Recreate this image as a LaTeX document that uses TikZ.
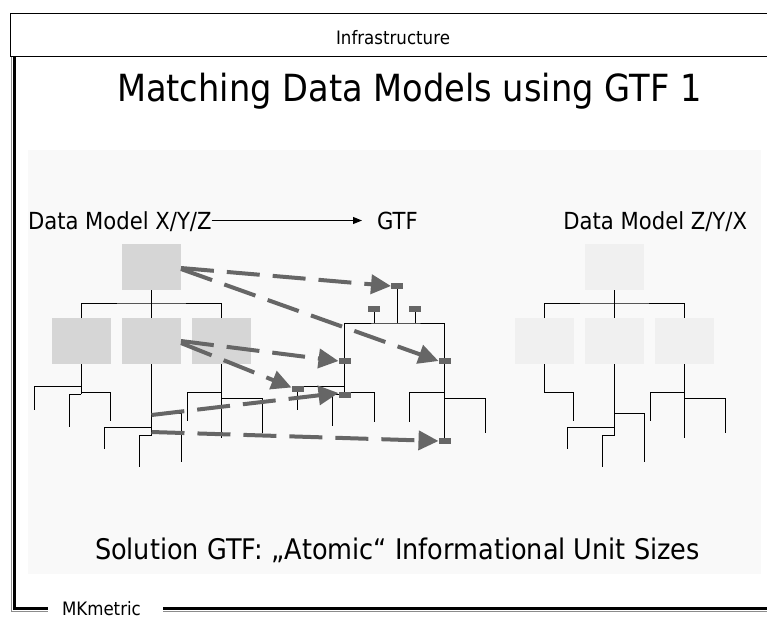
\documentclass[tikz,border=0pt]{standalone}
\usepackage{fontspec}
\setmainfont{DejaVu Sans}[FakeStretch=0.9]
\usetikzlibrary{arrows.meta}

\definecolor{panelgray}{RGB}{249,249,249}
\definecolor{boxdark}{RGB}{214,214,214}
\definecolor{boxlight}{RGB}{240,240,240}
\definecolor{portgray}{RGB}{102,102,102}
\definecolor{rulegray}{RGB}{140,140,140}

\tikzset{
  lbl/.style={inner sep=0pt, outer sep=0pt},
  boxA/.style={rectangle, fill=boxdark, minimum width=59pt, minimum height=46pt, inner sep=0pt, outer sep=0pt},
  boxB/.style={boxA, fill=boxlight},
  port/.style={rectangle, fill=portgray, minimum width=12pt, minimum height=6pt, inner sep=0pt, outer sep=0pt},
  wire/.style={draw=black, line width=1pt},
  flow/.style={draw=portgray, line width=4pt, dash pattern=on 33pt off 13pt,
    -{Triangle[length=20pt,width=19pt]}},
  pointer/.style={draw=black, line width=1pt, -{Triangle[length=9pt,width=7pt]}}
}

\begin{document}
\begin{tikzpicture}[x=1pt,y=-1pt]
\useasboundingbox (0,0) rectangle (767,619);

% header band
\draw[line width=1pt] (10.5,13) rectangle (775,56.5);
\node[lbl, anchor=base] (head) at (393,44.5) {\fontsize{18.5}{20}\selectfont Infrastructure};

% page frame: double rule on the left and along the bottom
\draw[rulegray, line width=1pt] (11,57) -- (11,611.5) -- (48,611.5);
\draw[black, line width=3pt] (14.5,57) -- (14.5,608.5) -- (48,608.5);
\draw[rulegray, line width=1pt] (163,611.5) -- (775,611.5);
\draw[black, line width=3pt] (163,608.5) -- (775,608.5);
\node[lbl, anchor=base west] (brand) at (62,615.5) {\fontsize{18.5}{20}\selectfont MKmetric};

% title
\node[lbl, anchor=base west] (title) at (117,101.5) {\fontsize{37.4}{40}\selectfont Matching Data Models using GTF 1};

% content panel
\fill[panelgray] (28,150) rectangle (761,574);

% labels
\node[lbl, anchor=base west] (dmA) at (28,229) {\fontsize{23.5}{26}\selectfont Data Model X/Y/Z};
\node[lbl, anchor=base west] (gtf) at (377,229) {\fontsize{23.5}{26}\selectfont GTF};
\node[lbl, anchor=base east] (dmB) at (747,229) {\fontsize{23.5}{26}\selectfont Data Model Z/Y/X};
\draw[pointer] ([yshift=8.5pt]dmA.base east) -- ([xshift=-15pt,yshift=8.5pt]gtf.base west);

\node[lbl, anchor=base west] (sol) at (95,559) {\fontsize{28.4}{31}\selectfont Solution GTF: „Atomic“ Informational Unit Sizes};

% ---- source model X/Y/Z ----
\node[boxA] (T1) at (151.5,267) {};
\node[boxA] (L1a) at (81.3,341) {};
\node[boxA] (L1b) at (151.5,341) {};
\node[boxA] (L1c) at (221.5,341) {};
\draw[wire] (T1.south) -- ++(0,13) coordinate (b1);
\draw[wire] (L1a.north) |- (b1) -| (L1c.north);
\draw[wire] (b1) -- (L1b.north);
% left child
\draw[wire] (L1a.south) -- ++(0,30);
\draw[wire] ([yshift=-22pt]L1a.south) -| ++(-47.3,24);
\draw[wire] ([yshift=-28pt]L1a.south) -| ++(29,29);
\draw[wire] ([yshift=-30pt]L1a.south) -| ++(-12.3,33);
% middle child
\draw[wire] (L1b.south) -- ++(0,71);
\draw[wire] ([yshift=-49pt]L1b.south) -| ++(29.5,49);
\draw[wire] ([yshift=-63pt]L1b.south) -| ++(-47.5,22);
\draw[wire] ([yshift=-71pt]L1b.south) -| ++(-12.5,32);
% right child
\draw[wire] (L1c.south) -- ++(0,74);
\draw[wire] ([yshift=-28pt]L1c.south) -| ++(-34.5,29);
\draw[wire] ([yshift=-34pt]L1c.south) -| ++(40.5,35);

% ---- target model Z/Y/X ----
\node[boxB] (T2) at (614.5,267) {};
\node[boxB] (L2a) at (544.3,341) {};
\node[boxB] (L2b) at (614.5,341) {};
\node[boxB] (L2c) at (684.5,341) {};
\draw[wire] (T2.south) -- ++(0,13) coordinate (b2);
\draw[wire] (L2a.north) |- (b2) -| (L2c.north);
\draw[wire] (b2) -- (L2b.north);
\draw[wire] (L2a.south) -- ++(0,28) -| ++(29,29);
\draw[wire] (L2b.south) -- ++(0,71);
\draw[wire] ([yshift=-49pt]L2b.south) -| ++(29.5,49);
\draw[wire] ([yshift=-63pt]L2b.south) -| ++(-47.5,22);
\draw[wire] ([yshift=-71pt]L2b.south) -| ++(-12.5,32);
\draw[wire] (L2c.south) -- ++(0,74);
\draw[wire] ([yshift=-28pt]L2c.south) -| ++(-34.5,29);
\draw[wire] ([yshift=-34pt]L2c.south) -| ++(40.5,35);

% ---- GTF structure with atomic ports ----
\coordinate (P0c) at (397,286);
\coordinate (P4c) at (344.5,395);
\coordinate (P6c) at (444.5,441);
\coordinate (P7c) at (297.5,389);
\draw[wire] (P0c) -- ++(0,37) coordinate (g0);
\draw[wire] (P4c) |- (g0) -| (P6c);
\draw[wire] (374,309) -- (374,323);
\draw[wire] (415,309) -- (415,323);
\draw[wire] (P7c) -- ++(0,21);
\draw[wire] ([yshift=2.5pt]P7c) -- ([yshift=2.5pt]P7c -| P4c);
\draw[wire] ([yshift=3pt]P4c) -| ++(30,29.5);
\draw[wire] ([yshift=1pt]P4c) -| ++(-11.8,32);
\draw[wire] (444.5,392.3) -| (409,421.7);
\draw[wire] (444.5,398.3) -| (485.7,432.7);

\node[port] (P0) at (P0c) {};
\node[port] (P1) at (374,309) {};
\node[port] (P2) at (415,309) {};
\node[port] (P3) at (344.5,361) {};
\node[port] (P4) at (P4c) {};
\node[port] (P5) at (444.5,361) {};
\node[port] (P6) at (P6c) {};
\node[port] (P7) at (P7c) {};

% ---- mappings ----
\coordinate (s5) at ([yshift=-51pt]L1b.south);
\coordinate (s6) at ([yshift=-68pt]L1b.south);
\draw[flow] ([yshift=-1pt]T1.east) -- (P0.west);
\draw[flow] ([yshift=-2pt]T1.east) -- (P5.west);
\draw[flow] (L1b.east) -- (P3.west);
\draw[flow] ([yshift=-2pt]L1b.east) -- ([yshift=1.5pt]P7.west);
\draw[flow] (s5) -- ([yshift=2pt]P4.west);
\draw[flow] (s6) -- (P6.west);
\end{tikzpicture}
\end{document}
